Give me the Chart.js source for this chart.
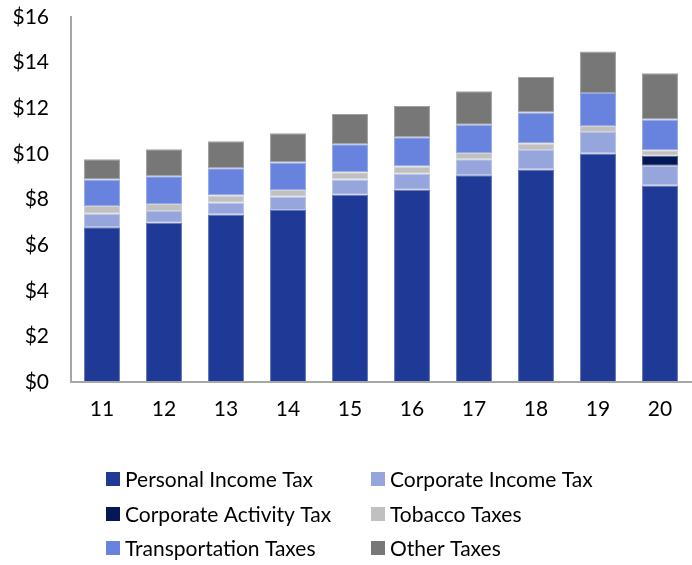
<!DOCTYPE html>
<html>
<head>
<meta charset="utf-8">
<script src="https://cdn.jsdelivr.net/npm/chart.js@4/dist/chart.umd.min.js"></script>
<style>
  html, body { margin: 0; padding: 0; background: #ffffff; }
  #wrap { width: 692px; height: 565px; position: relative; }
</style>
</head>
<body>
<div id="wrap"><canvas id="chart" width="692" height="565"></canvas></div>
<script>
// Fiscal years (two-digit labels)
const years = ['11', '12', '13', '14', '15', '16', '17', '18', '19', '20'];

// Revenue by source, billions of dollars
const personalIncomeTax   = [6.78, 6.98, 7.34, 7.54, 8.21, 8.43, 9.06, 9.31, 10.02, 8.61];
const corporateIncomeTax  = [0.60, 0.52, 0.52, 0.58, 0.67, 0.70, 0.70, 0.86, 0.94, 0.87];
const corporateActivity   = [0, 0, 0, 0, 0, 0, 0, 0, 0, 0.44];
const tobaccoTaxes        = [0.34, 0.30, 0.32, 0.30, 0.31, 0.32, 0.28, 0.28, 0.26, 0.24];
const transportationTaxes = [1.16, 1.22, 1.19, 1.20, 1.23, 1.28, 1.24, 1.36, 1.45, 1.35];
const otherTaxes          = [0.88, 1.18, 1.18, 1.28, 1.33, 1.37, 1.47, 1.56, 1.82, 2.02];

const yTicks = [0, 2, 4, 6, 8, 10, 12, 14, 16];

const FONT = 'Lato, "Open Sans", sans-serif';
const TEXT = '#000000';

const series = [
  { label: 'Personal Income Tax',   data: personalIncomeTax,   color: '#1F3A96' },
  { label: 'Corporate Income Tax',  data: corporateIncomeTax,  color: '#96A6DC' },
  { label: 'Corporate Activity Tax',data: corporateActivity,   color: '#041858' },
  { label: 'Tobacco Taxes',         data: tobaccoTaxes,        color: '#C0C0C0' },
  { label: 'Transportation Taxes',  data: transportationTaxes, color: '#6783DE' },
  { label: 'Other Taxes',           data: otherTaxes,          color: '#777777' }
];

// Lighter tint of a hex colour, used for the thin segment outlines
function tint(hex, amount) {
  const n = parseInt(hex.slice(1), 16);
  const mix = c => Math.round(c + (255 - c) * amount);
  return `rgb(${mix(n >> 16)}, ${mix((n >> 8) & 255)}, ${mix(n & 255)})`;
}

// Two-column legend drawn beneath the plot
const gridLegend = {
  id: 'gridLegend',
  afterDraw(chart) {
    const ctx = chart.ctx;
    const cols = [106, 371];
    const rows = [479, 514, 548];
    const box = 14;
    ctx.save();
    ctx.font = '21px ' + FONT;
    ctx.textBaseline = 'middle';
    ctx.textAlign = 'left';
    chart.data.datasets.forEach((ds, i) => {
      const x = cols[i % 2];
      const y = rows[Math.floor(i / 2)];
      ctx.fillStyle = ds.backgroundColor;
      ctx.fillRect(x, y - box / 2, box, box);
      ctx.fillStyle = TEXT;
      ctx.fillText(ds.label, x + 19, y + 1);
    });
    ctx.restore();
  }
};

new Chart(document.getElementById('chart'), {
  type: 'bar',
  data: {
    labels: years,
    datasets: series.map(s => ({
      label: s.label,
      data: s.data,
      backgroundColor: s.color,
      borderColor: tint(s.color, 0.3),
      // empty segments get no outline
      borderWidth: c => (c.raw ? 1 : 0),
      borderSkipped: false,
      barPercentage: 0.58,
      categoryPercentage: 1.0
    }))
  },
  options: {
    responsive: false,
    animation: false,
    layout: { padding: { top: 17, right: 1, left: 0, bottom: 0 } },
    plugins: {
      legend: { display: false },
      tooltip: { enabled: false }
    },
    scales: {
      x: {
        stacked: true,
        grid: { display: false, drawTicks: false },
        border: { display: true, color: '#A6A6A6', width: 2, z: 1 },
        ticks: { color: TEXT, font: { family: FONT, size: 21 }, padding: 15, maxRotation: 0 },
        afterFit(scale) { scale.height = 183; scale.paddingLeft = 0; scale.paddingRight = 0; }
      },
      y: {
        stacked: true,
        min: 0,
        max: 16,
        afterBuildTicks(scale) { scale.ticks = yTicks.map(v => ({ value: v })); },
        grid: { display: false, drawTicks: false },
        border: { display: true, color: '#A6A6A6', width: 2 },
        ticks: {
          color: TEXT,
          font: { family: FONT, size: 21 },
          padding: 22,
          callback: v => '$' + v
        },
        afterFit(scale) { scale.width = 71; scale.paddingTop = 0; scale.paddingBottom = 0; }
      }
    }
  },
  plugins: [gridLegend]
});
</script>
</body>
</html>
